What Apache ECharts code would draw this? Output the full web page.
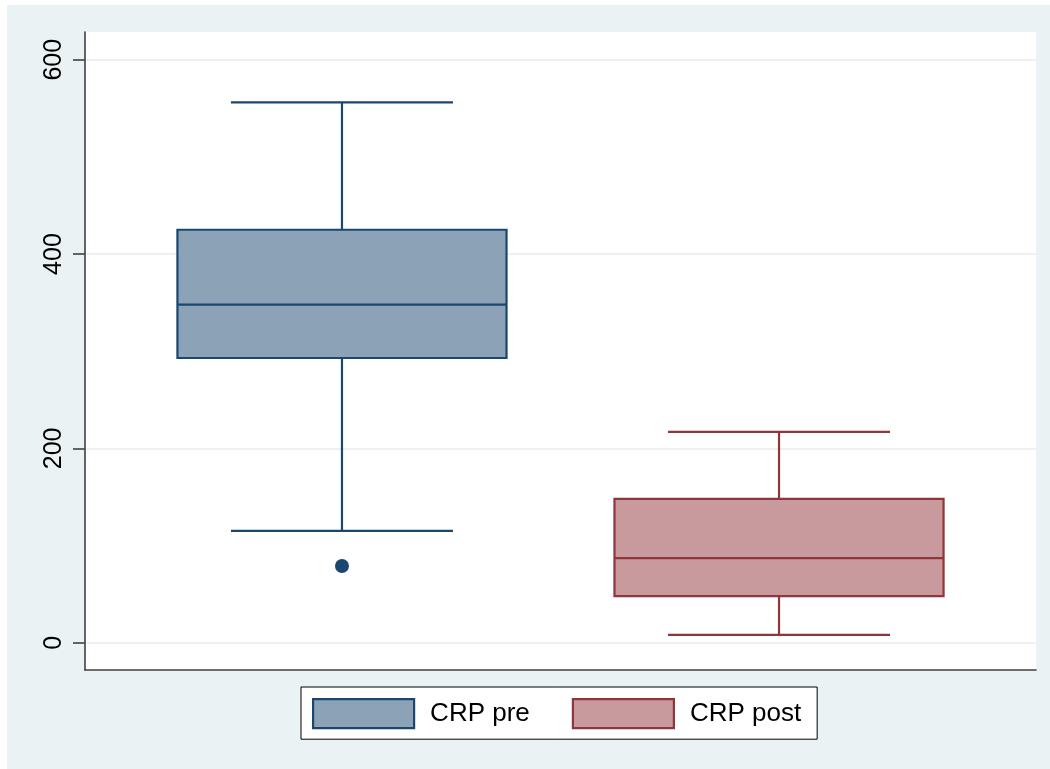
<!DOCTYPE html>
<html>
<head>
<meta charset="utf-8">
<script src="https://cdn.jsdelivr.net/npm/echarts@6/dist/echarts.min.js"></script>
<style>
  html, body { margin: 0; padding: 0; background: #ffffff; }
  #chart { position: absolute; left: 7px; top: 5px; width: 1043px; height: 764px; }
</style>
</head>
<body>
<div id="chart"></div>
<script>
// ---- data ----
const categories = ['CRP pre', 'CRP post'];
const lowWhisker = [115, 8];
const q1 = [293, 48];
const median = [348, 87];
const q3 = [425, 148];
const highWhisker = [556, 217];
const outlierGroup = [0];      // category index of each outlier
const outlierValue = [79];     // outlier values
const yTicks = [0, 200, 400, 600];

// ---- styles ----
const strokeColors = ['#1a476f', '#90353b'];
const fillColors = ['#8ca3b7', '#c89a9d'];
const BOX_W = 0.753;
const CAP_W = 0.508;
const FONT = "'Liberation Sans', Arial, Helvetica, sans-serif";

function makeRender(idx) {
  return function (params, api) {
    const x = api.value(0);
    const pLo = api.coord([x, api.value(1)]);
    const pQ1 = api.coord([x, api.value(2)]);
    const pMed = api.coord([x, api.value(3)]);
    const pQ3 = api.coord([x, api.value(4)]);
    const pHi = api.coord([x, api.value(5)]);
    const cx = pMed[0];
    const bw = api.size([BOX_W, 0])[0];
    const cw = api.size([CAP_W, 0])[0];
    const ls = { stroke: strokeColors[idx], lineWidth: 2.2 };
    return {
      type: 'group',
      children: [
        { type: 'line', shape: { x1: cx, y1: pHi[1], x2: cx, y2: pQ3[1] }, style: ls },
        { type: 'line', shape: { x1: cx, y1: pLo[1], x2: cx, y2: pQ1[1] }, style: ls },
        { type: 'line', shape: { x1: cx - cw / 2, y1: pHi[1], x2: cx + cw / 2, y2: pHi[1] }, style: ls },
        { type: 'line', shape: { x1: cx - cw / 2, y1: pLo[1], x2: cx + cw / 2, y2: pLo[1] }, style: ls },
        { type: 'rect', shape: { x: cx - bw / 2, y: pQ3[1], width: bw, height: pQ1[1] - pQ3[1] },
          style: { fill: fillColors[idx], stroke: strokeColors[idx], lineWidth: 2.2 } },
        { type: 'line', shape: { x1: cx - bw / 2, y1: pMed[1], x2: cx + bw / 2, y2: pMed[1] }, style: ls }
      ]
    };
  };
}

const boxSeries = categories.map(function (name, i) {
  return {
    name: name,
    type: 'custom',
    renderItem: makeRender(i),
    clip: false,
    encode: { x: 0, y: [1, 2, 3, 4, 5] },
    itemStyle: { color: fillColors[i], borderColor: strokeColors[i], borderWidth: 2 },
    data: [[i + 1, lowWhisker[i], q1[i], median[i], q3[i], highWhisker[i]]],
    z: 3
  };
});

const outlierSeries = {
  name: 'outliers',
  type: 'scatter',
  symbol: 'circle',
  symbolSize: 14,
  data: outlierGroup.map(function (g, k) {
    return { value: [g + 1, outlierValue[k]], itemStyle: { color: strokeColors[g], opacity: 1 } };
  }),
  itemStyle: { opacity: 1 },
  z: 4
};

const chart = echarts.init(document.getElementById('chart'), null, { renderer: 'canvas' });
chart.setOption({
  backgroundColor: '#eaf2f3',
  animation: false,
  grid: {
    left: 78, top: 27, right: 14, bottom: 99,
    show: true, backgroundColor: '#ffffff', borderWidth: 0
  },
  xAxis: {
    type: 'value',
    min: 0.412, max: 2.588,
    axisLine: { show: true, onZero: false, lineStyle: { color: '#404040', width: 1.6 } },
    axisTick: { show: false },
    axisLabel: { show: false },
    splitLine: { show: false }
  },
  yAxis: {
    type: 'value',
    min: -28.1, max: 628.5,
    axisLine: { show: true, onZero: false, lineStyle: { color: '#404040', width: 1.6 } },
    axisTick: { show: true, length: 12, customValues: yTicks, lineStyle: { color: '#404040', width: 1.6 } },
    axisLabel: {
      customValues: yTicks, rotate: 90, margin: 18,
      color: '#000000', fontSize: 25, fontFamily: FONT
    },
    splitLine: { show: true, lineStyle: { color: '#e6eef0', width: 1.5 } }
  },
  legend: {
    data: categories.map(function (name, i) {
      return { name: name, icon: 'rect',
        itemStyle: { color: fillColors[i], borderColor: strokeColors[i], borderWidth: 2.2 } };
    }),
    left: 294, top: 682,
    orient: 'horizontal',
    itemWidth: 101, itemHeight: 29, itemGap: 42,
    padding: [11, 16, 10, 11],
    backgroundColor: '#ffffff',
    borderColor: '#000000', borderWidth: 1,
    textStyle: { fontSize: 26, fontFamily: FONT, color: '#000000', padding: [0, 0, 0, 11] },
    selectedMode: false
  },
  series: boxSeries.concat([outlierSeries])
});
</script>
</body>
</html>
